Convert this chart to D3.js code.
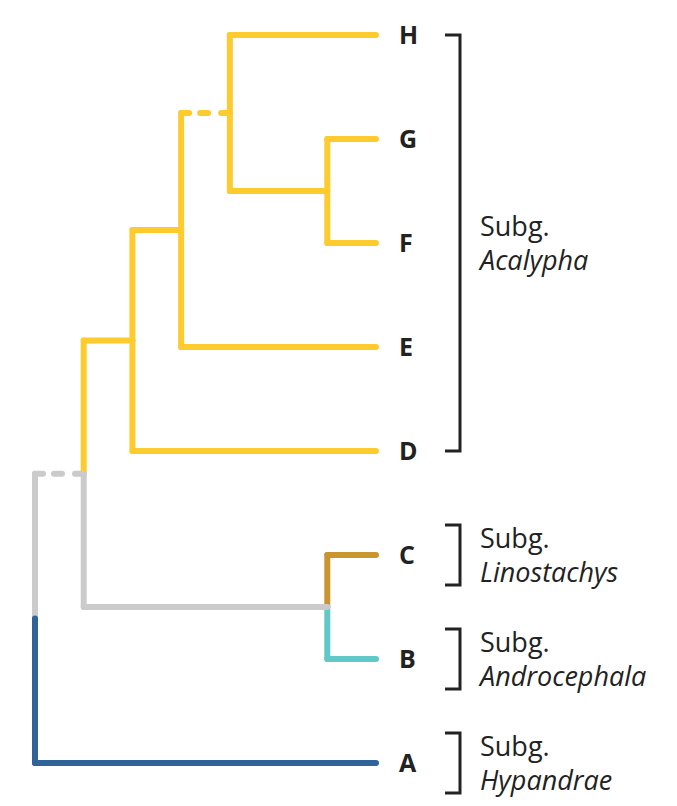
<!DOCTYPE html>
<html>
<head>
  <meta charset="UTF-8">
  <title>Acalypha subgenera tree</title>
  <style>
    body {
      margin: 0;
      background: #fff;
      overflow: hidden;
    }
    .branch {
      fill: none;
      stroke-width: 6px;
      stroke-linecap: round;
      stroke-linejoin: round;
    }
    .leaf-label {
      font-family: "Open Sans", sans-serif;
      font-weight: 700;
      font-size: 25px;
      fill: #222;
    }
    .bracket {
      fill: none;
      stroke: #222;
      stroke-width: 3px;
    }
    .subg {
      font-family: "Open Sans", sans-serif;
      font-size: 27px;
      fill: #222;
    }
    .subg-name {
      font-style: italic;
    }
  </style>
</head>
<body>

<svg id="tree"></svg>

<script src="https://d3js.org/d3.v7.min.js"></script>
<script>
const width = 677;
const height = 806;

// tree topology (parent table) and relative depth of each node
const nodeIds   = ["root", "n1",   "acal", "n3",   "n4", "gf", "bc", "H",  "G",  "F",  "E",  "D",    "C",  "B",  "A"];
const parentIds = ["",     "root", "n1",   "acal", "n3", "n4", "n1", "n4", "gf", "gf", "n3", "acal", "bc", "bc", "root"];
const depths    = [0,      1,      2,      3,      4,    6,    6,    7,    7,    7,    7,    7,      7,    7,    7];
const clades    = ["stem", "stem", "Acalypha", "Acalypha", "Acalypha", "Acalypha", "stem",
                   "Acalypha", "Acalypha", "Acalypha", "Acalypha", "Acalypha",
                   "Linostachys", "Androcephala", "Hypandrae"];
const dashedStems = ["n1", "n4"];

// leaf order top to bottom
const leaves = ["H", "G", "F", "E", "D", "C", "B", "A"];

// subgenus brackets
const subgenera = ["Acalypha", "Linostachys", "Androcephala", "Hypandrae"];
const subgFirst = ["H", "C", "B", "A"];
const subgLast  = ["D", "C", "B", "A"];

const cladeColor = d3.scaleOrdinal()
  .domain(["stem", "Acalypha", "Linostachys", "Androcephala", "Hypandrae"])
  .range(["#cbcbcb", "#fecb2f", "#c9952f", "#60c8c9", "#2f6399"]);

const svg = d3.select("#tree")
  .attr("width", width)
  .attr("height", height);

const x = d3.scaleLinear().domain([0, 7]).range([35, 376]);
const y = d3.scalePoint().domain(leaves).range([35, 763]);

const table = nodeIds.map((id, i) => ({
  id, parent: parentIds[i] || null, depth: depths[i], clade: clades[i]
}));
const root = d3.stratify().id(d => d.id).parentId(d => d.parent)(table);

// positions: leaves from the point scale, internal nodes centred on their children
root.eachAfter(d => {
  d.px = x(d.data.depth);
  if (d.children) {
    const ys = d.children.map(c => c.py);
    d.py = (d3.min(ys) + d3.max(ys)) / 2;
  } else {
    d.py = y(d.id);
  }
});

const g = svg.append("g");
const links = root.links();

// vertical part at the parent, coloured by child clade
g.selectAll("path.vert")
  .data(links)
  .join("path")
  .attr("class", "branch vert")
  .attr("stroke", d => cladeColor(d.target.data.clade))
  .attr("d", d => `M${d.source.px},${d.source.py} V${d.target.py}`);

// horizontal stem to the child
g.selectAll("path.horiz")
  .data(links)
  .join("path")
  .attr("class", "branch horiz")
  .attr("stroke", d => cladeColor(d.target.data.clade))
  .attr("stroke-dasharray", d => dashedStems.includes(d.target.id) ? "8,11,8,13,300" : null)
  .attr("d", d => `M${d.source.px},${d.target.py} H${d.target.px}`);

// leaf letters
g.selectAll("text.leaf-label")
  .data(root.leaves())
  .join("text")
  .attr("class", "leaf-label")
  .attr("x", d => d.px + 23)
  .attr("y", d => d.py)
  .attr("dy", "0.37em")
  .text(d => d.id);

// brackets and subgenus names
const brX = 460;
const groups = subgenera.map((name, i) => {
  const single = subgFirst[i] === subgLast[i];
  const pad = single ? 30 : 0;
  const top = y(subgFirst[i]) - pad;
  const bottom = y(subgLast[i]) + pad;
  return { name, top, bottom, mid: (top + bottom) / 2 };
});

const grp = g.selectAll("g.subgroup")
  .data(groups)
  .join("g")
  .attr("class", "subgroup");

grp.append("path")
  .attr("class", "bracket")
  .attr("d", d => `M${brX - 15},${d.top} H${brX} V${d.bottom} H${brX - 15}`);

grp.append("text")
  .attr("class", "subg")
  .attr("x", brX + 20)
  .attr("y", d => d.mid - 7)
  .text("Subg.");

grp.append("text")
  .attr("class", "subg subg-name")
  .attr("x", brX + 20)
  .attr("y", d => d.mid + 27)
  .text(d => d.name);
</script>

</body>
</html>
